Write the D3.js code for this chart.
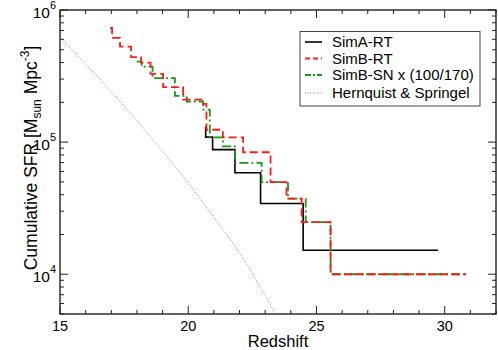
<!DOCTYPE html>
<html>
<head>
<meta charset="utf-8">
<script src="https://cdn.jsdelivr.net/npm/d3@7"></script>
<style>
  body { margin: 0; background: #fff; }
  svg { font-family: "Liberation Sans", Arial, sans-serif; }
</style>
</head>
<body>
<div id="chart"></div>
<script>
// redshift / cumulative SFR pairs (step curves)
var simAz = [20.68, 20.68, 20.95, 21.82, 22.82, 24.48, 29.74];
var simAv = [1.31e5, 1.09e5, 8.78e4, 5.86e4, 3.43e4, 1.52e4, 1.52e4];

var simBz = [16.95, 17.03, 17.34, 17.77, 18.16, 18.53, 19.02, 19.80, 20.52, 20.71, 21.35, 22.14, 23.21, 23.83, 24.42, 25.55, 30.84];
var simBv = [7.31e5, 6.15e5, 5.29e5, 4.40e5, 4.0e5, 3.29e5, 2.61e5, 2.10e5, 1.95e5, 1.24e5, 1.087e5, 8.38e4, 4.98e4, 3.73e4, 2.48e4, 1.0e4, 1.0e4];

var simSNz = [17.99, 18.18, 18.61, 19.48, 19.94, 20.58, 20.84, 21.35, 21.82, 22.86, 23.89, 24.58, 25.55, 30.84];
var simSNv = [4.07e5, 3.73e5, 3.05e5, 2.24e5, 2.03e5, 1.76e5, 1.087e5, 9.3e4, 6.97e4, 4.98e4, 3.73e4, 2.48e4, 1.0e4, 1.0e4];

// Hernquist & Springel model curve
var hsZ = [15, 16, 17, 18, 19, 20, 21, 22, 23, 23.5];
var hsV = [6.17e5, 3.89e5, 2.40e5, 1.45e5, 8.5e4, 4.9e4, 2.69e4, 1.45e4, 6.9e3, 4.6e3];

var xMajor = [15, 20, 25, 30];
var yMajor = [1e4, 1e5, 1e6];
var yExp = ['4', '5', '6'];

var legendNames = ['SimA-RT', 'SimB-RT', 'SimB-SN x (100/170)', 'Hernquist & Springel'];

var W = 498, H = 350;
var pL = 60, pR = 496, pT = 10, pB = 314;

var svg = d3.select('#chart').append('svg').attr('width', W).attr('height', H);

var x = d3.scaleLinear().domain([15, 32]).range([pL, pR]);
var y = d3.scaleLog().domain([5000, 1e6]).range([pB, pT]);

svg.append('clipPath').attr('id', 'clip').append('rect')
  .attr('x', pL).attr('y', pT).attr('width', pR - pL).attr('height', pB - pT);

function pts(zs, vs) { return zs.map(function(z, i) { return [z, vs[i]]; }); }

var stepLine = d3.line().x(d => x(d[0])).y(d => y(d[1])).curve(d3.curveStepAfter);
var smoothLine = d3.line().x(d => x(d[0])).y(d => y(d[1])).curve(d3.curveNatural);

var series = [
  {name: legendNames[0], data: pts(simAz, simAv), color: '#000000', dash: null, w: 1.6, gen: stepLine},
  {name: legendNames[1], data: pts(simBz, simBv), color: '#ff1a1a', dash: '8,4', w: 1.8, gen: stepLine},
  {name: legendNames[2], data: pts(simSNz, simSNv), color: '#149a14', dash: '9,3,2,3', w: 1.8, gen: stepLine},
  {name: legendNames[3], data: pts(hsZ, hsV), color: '#b07474', dash: '1,1.6', w: 1, gen: smoothLine}
];

var plot = svg.append('g').attr('clip-path', 'url(#clip)');
// draw the dotted model first, then black, green, red
[3, 0, 2, 1].forEach(function(i) {
  var s = series[i];
  plot.append('path')
    .attr('d', s.gen(s.data))
    .attr('fill', 'none')
    .attr('stroke', s.color)
    .attr('stroke-width', s.w)
    .attr('stroke-dasharray', s.dash);
});

// ticks (inside, on all four sides)
var axisCol = '#222';
var tk = svg.append('g').attr('stroke', axisCol).attr('stroke-width', 1);
d3.range(15, 33).forEach(function(v) {
  var len = xMajor.indexOf(v) >= 0 ? 8 : 4;
  tk.append('line').attr('x1', x(v)).attr('x2', x(v)).attr('y1', pB).attr('y2', pB - len);
  tk.append('line').attr('x1', x(v)).attr('x2', x(v)).attr('y1', pT).attr('y2', pT + len);
});
y.ticks().forEach(function(v) {
  var len = yMajor.indexOf(v) >= 0 ? 8 : 4;
  tk.append('line').attr('x1', pL).attr('x2', pL + len).attr('y1', y(v)).attr('y2', y(v));
  tk.append('line').attr('x1', pR).attr('x2', pR - len).attr('y1', y(v)).attr('y2', y(v));
});

// frame
svg.append('rect')
  .attr('x', pL).attr('y', pT).attr('width', pR - pL).attr('height', pB - pT)
  .attr('fill', 'none').attr('stroke', axisCol).attr('stroke-width', 1.4);

// x tick labels
svg.selectAll('.xl').data(xMajor).enter().append('text')
  .attr('x', d => x(d)).attr('y', pB + 17)
  .attr('text-anchor', 'middle').attr('font-size', 14.5).attr('fill', '#000')
  .text(d => d);

// y tick labels with exponent
yMajor.forEach(function(v, i) {
  var t = svg.append('text')
    .attr('x', pL - 4).attr('y', y(v) + 8)
    .attr('text-anchor', 'end').attr('font-size', 15.5).attr('fill', '#000');
  t.append('tspan').text('10');
  t.append('tspan').attr('font-size', 11).attr('dy', -9).text(yExp[i]);
});

// axis titles
svg.append('text')
  .attr('x', (pL + pR) / 2).attr('y', 347)
  .attr('text-anchor', 'middle').attr('font-size', 16.5).attr('fill', '#000')
  .text('Redshift');

var yt = svg.append('text')
  .attr('transform', 'translate(37,158) rotate(-90)')
  .attr('text-anchor', 'middle').attr('font-size', 17.5).attr('fill', '#000');
yt.append('tspan').text('Cumulative SFR [M');
yt.append('tspan').attr('font-size', 12).attr('dy', 4).text('sun');
yt.append('tspan').attr('dy', -4).text(' Mpc');
yt.append('tspan').attr('font-size', 12).attr('dy', -8).text('-3');
yt.append('tspan').attr('dy', 8).text(']');

// legend
var lg = svg.append('g');
lg.append('rect')
  .attr('x', 300).attr('y', 31.5).attr('width', 180).attr('height', 74.5)
  .attr('fill', '#fff').attr('stroke', '#444').attr('stroke-width', 1);
var rowY = [42, 58.5, 75, 93];
series.forEach(function(s, i) {
  lg.append('line')
    .attr('x1', 305).attr('x2', 322).attr('y1', rowY[i]).attr('y2', rowY[i])
    .attr('stroke', s.color).attr('stroke-width', s.w)
    .attr('stroke-dasharray', i === 1 ? '5,3' : (i === 2 ? '6,2,2,2' : s.dash));
  lg.append('text')
    .attr('x', 332).attr('y', rowY[i] + 5)
    .attr('font-size', 15).attr('fill', '#000')
    .text(s.name);
});
</script>
</body>
</html>
